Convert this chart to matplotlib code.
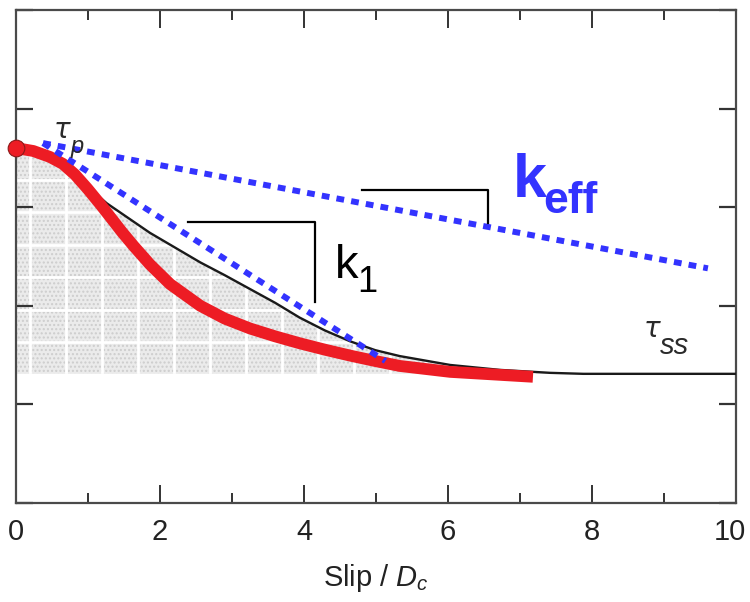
import matplotlib
matplotlib.use("Agg")
import matplotlib.pyplot as plt
import matplotlib.transforms as mtransforms
from matplotlib.ticker import MultipleLocator
import numpy as np

plt.rcParams['font.family'] = ['Liberation Sans', 'DejaVu Sans']
plt.rcParams['mathtext.fontset'] = 'custom'
plt.rcParams['mathtext.rm'] = 'Liberation Sans'
plt.rcParams['mathtext.it'] = 'Liberation Sans:italic'
plt.rcParams['hatch.linewidth'] = 1.0

# ---- data ----
red_x = [0, 0.24, 0.47, 0.65, 0.82, 0.99, 1.17, 1.31, 1.47, 1.63, 1.86, 2.14, 2.56, 2.90,
         3.25, 3.60, 3.94, 4.29, 4.64, 4.99, 5.33, 6.03, 6.72, 7.18]
red_y = [3.60, 3.57, 3.51, 3.44, 3.33, 3.19, 3.03, 2.90, 2.75, 2.61, 2.42, 2.22, 2.00, 1.87,
         1.77, 1.69, 1.62, 1.555, 1.495, 1.44, 1.39, 1.33, 1.30, 1.28]

black_x = [0, 0.33, 0.68, 0.96, 1.26, 1.58, 1.86, 2.21, 2.56, 2.90, 3.25, 3.60, 3.94, 4.29,
           4.64, 4.99, 5.33, 6.03, 6.72, 7.42, 7.88, 10]
black_y = [3.60, 3.53, 3.41, 3.23, 3.04, 2.88, 2.74, 2.59, 2.44, 2.31, 2.17, 2.03, 1.88, 1.75,
           1.64, 1.55, 1.49, 1.40, 1.35, 1.32, 1.31, 1.31]

tau_ss = 1.31
fill_end = 7.88

keff_x = [0.375, 9.61]
keff_y = [3.65, 2.38]
k1_x = [0.375, 5.13]
k1_y = [3.65, 1.44]

tri_k1_x = [2.39, 4.15, 4.15]
tri_k1_y = [2.85, 2.85, 2.04]
tri_keff_x = [4.81, 6.56, 6.56]
tri_keff_y = [3.17, 3.17, 2.84]

x_ticks = [0, 2, 4, 6, 8, 10]
x_tick_labels = ['0', '2', '4', '6', '8', '10']

# ---- figure ----
fig = plt.figure(figsize=(7.5, 6.02), dpi=100)
ax = fig.add_axes([16/750, 99/602, 720/750, 493/602])
ax.set_xlim(0, 10)
ax.set_ylim(0, 5)

# stippled area under black curve
fx = [x for x in black_x if x <= fill_end]
fy = [y for x, y in zip(black_x, black_y) if x <= fill_end]
area = ax.fill_between(fx, fy, tau_ss, facecolor='#ebebeb', edgecolor='#cdcdcd',
                       hatch='....', linewidth=0, zorder=1)
# white grid bands of the screen-tone texture, clipped to the shaded area
clip_path = area.get_paths()[0]
for gx in np.arange(0.2, fill_end, 0.5):
    ln = ax.axvline(gx, color='white', lw=2.0, zorder=1.5)
    ln.set_clip_path(clip_path, ax.transData)
for gy in np.arange(tau_ss + 0.32, 3.7, 0.33):
    ln = ax.axhline(gy, color='white', lw=2.0, zorder=1.5)
    ln.set_clip_path(clip_path, ax.transData)

# black curve
ax.plot(black_x, black_y, color='#1a1a1a', lw=1.7, solid_joinstyle='round', zorder=3)

# red curve
ax.plot(red_x, red_y, color='#ed1c24', lw=8.5, solid_capstyle='butt',
        solid_joinstyle='round', zorder=4)
ax.plot(red_x[:1], red_y[:1], 'o', ms=12, color='#ed1c24', mec='#8a1a1a', mew=0.8, zorder=5,
        clip_on=False)

# blue dotted lines
ax.plot(keff_x, keff_y, color='#3333ff', lw=4.3, linestyle=(0, (1.3, 1.2)),
        dash_capstyle='butt', zorder=6)
ax.plot(k1_x, k1_y, color='#3333ff', lw=4.3, linestyle=(0, (1.3, 1.2)),
        dash_capstyle='butt', zorder=6)

# slope triangles
ax.plot(tri_k1_x, tri_k1_y, color='black', lw=1.6, zorder=6)
ax.plot(tri_keff_x, tri_keff_y, color='black', lw=1.6, zorder=6)

# labels
ax.text(4.43, 2.28, 'k', fontsize=34, color='black', va='baseline', ha='left', zorder=7)
ax.text(4.74, 2.14, '1', fontsize=26, color='black', va='baseline', ha='left', zorder=7)
ax.text(6.90, 3.10, 'k', fontsize=44, fontweight='bold', color='#3333ff',
        va='baseline', ha='left', zorder=7)
ax.text(7.32, 2.94, 'eff', fontsize=32, fontweight='bold', color='#3333ff',
        va='baseline', ha='left', zorder=7)
ax.text(0.52, 3.70, 'τ', fontsize=20, style='italic', color='#2a2a2a',
        family=['DejaVu Sans'], va='baseline', ha='left', zorder=7)
ax.text(0.76, 3.55, 'p', fontsize=17, style='italic', color='#2a2a2a',
        va='baseline', ha='left', zorder=7)
ax.text(8.72, 1.68, 'τ', fontsize=20, style='italic', color='#2a2a2a',
        family=['DejaVu Sans'], va='baseline', ha='left', zorder=7)
ax.text(8.95, 1.51, 'ss', fontsize=21, style='italic', color='#2a2a2a',
        va='baseline', ha='left', zorder=7)

# axes styling
for s in ax.spines.values():
    s.set_color('#4a4a4a')
    s.set_linewidth(1.6)

ax.set_xticks(x_ticks)
ax.set_xticklabels(x_tick_labels)
ax.xaxis.set_minor_locator(MultipleLocator(1))
ax.yaxis.set_major_locator(MultipleLocator(1))
ax.tick_params(axis='x', which='major', direction='in', length=13, width=1.4,
               colors='#333333', top=True, labelsize=21, pad=11)
ax.tick_params(axis='x', which='minor', direction='in', length=7, width=1.4,
               colors='#333333', top=True)
ax.tick_params(axis='y', which='major', direction='in', length=12, width=1.6,
               colors='#333333', right=True, labelleft=False)
ax.tick_params(axis='x', labelcolor='#222222')

# nudge the last tick label inward so it stays inside the canvas
last = ax.xaxis.get_major_ticks()[-1].label1
last.set_transform(last.get_transform() +
                   mtransforms.ScaledTranslation(-6/100, 0, fig.dpi_scale_trans))

ax.set_xlabel(r'Slip / $D_c$', fontsize=21, color='#222222', labelpad=11)

fig.savefig('out.png', dpi=100)
